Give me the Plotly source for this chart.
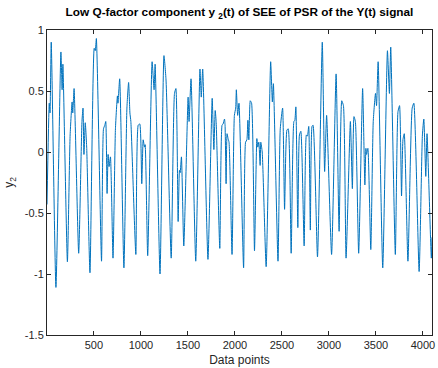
import plotly.graph_objects as go

# sample index (data points) and signal value at extrema
sample_idx = [1, 25, 33, 46, 96, 149, 162, 170, 218, 247, 268, 275, 289, 338, 373, 384, 394, 408, 423, 458,
              503, 514, 526, 581, 602, 616, 626, 640, 651, 661, 676, 703, 729, 750, 756, 774, 819, 851, 869, 883,
              893, 946, 971, 988, 1009, 1024, 1038, 1045, 1072, 1119, 1140, 1151, 1203, 1245, 1267, 1322, 1357, 1372, 1396, 1410,
              1417, 1431, 1456, 1502, 1512, 1533, 1583, 1628, 1642, 1657, 1713, 1758, 1776, 1790, 1800, 1839, 1863, 1874, 1889, 1895,
              1906, 1916, 1927, 1937, 1969, 1994, 2008, 2015, 2029, 2043, 2092, 2113, 2127, 2138, 2148, 2163, 2177, 2208, 2233, 2243,
              2254, 2268, 2275, 2290, 2332, 2380, 2398, 2409, 2458, 2482, 2507, 2528, 2553, 2567, 2598, 2627, 2637, 2648, 2669, 2686,
              2701, 2736, 2760, 2771, 2785, 2802, 2820, 2831, 2878, 2929, 2954, 2975, 3028, 3076, 3108, 3136, 3154, 3182, 3228, 3249,
              3266, 3281, 3316, 3358, 3382, 3393, 3400, 3414, 3445, 3471, 3495, 3506, 3523, 3572, 3622, 3643, 3657, 3706, 3734, 3751,
              3772, 3787, 3801, 3840, 3885, 3903, 3959, 3994, 4009, 4030, 4043, 4089, 4096]

y2_values = [-0.43, 0.40, 0.32, 0.90, -1.11, 0.82, 0.51, 0.72, -0.90, 0.14, 0.41, 0.32, 0.52, -0.83, 0.25, 0.36, -0.02, 0.24, 0.04, -0.99,
             0.85, 0.83, 0.93, -0.895, 0.19, 0.22, 0.25, -0.34, -0.02, -0.12, -0.04, -0.87, 0.19, 0.46, 0.40, 0.60, -0.95, 0.36, 0.57, 0.32,
             0.25, -0.84, 0.22, 0.23, -0.26, 0.10, 0.04, 0.06, -0.85, 0.74, 0.51, 0.72, -1.00, 0.79, 0.59, -0.87, 0.48, 0.52, -0.57, -0.15,
             -0.17, -0.04, -0.77, 0.45, 0.25, 0.60, -0.895, 0.68, 0.45, 0.68, -0.88, 0.44, 0.02, 0.34, 0.25, -0.79, 0.22, 0.23, 0.27, 0.22,
             -0.26, 0.15, 0.11, 0.08, -0.84, 0.30, 0.36, 0.51, 0.30, 0.40, -0.95, 0.08, 0.10, 0.26, 0.10, 0.42, 0.40, -0.81, 0.11, 0.04,
             0.08, -0.11, 0.08, 0.00, -0.94, 0.74, 0.41, 0.56, -0.895, 0.19, 0.36, -0.47, 0.18, 0.19, -0.83, 0.25, 0.26, 0.37, -0.62, 0.14,
             0.17, -0.77, 0.14, 0.13, 0.21, -0.64, 0.21, 0.22, -0.86, 0.90, -0.16, 0.30, -0.84, 0.64, -0.65, 0.42, 0.38, -0.87, 0.25, -0.30,
             0.29, 0.25, -0.83, 0.52, -0.27, 0.03, -0.02, 0.03, -0.80, 0.25, 0.48, 0.38, 0.74, -0.95, 0.83, 0.48, 0.86, -0.84, 0.33, 0.38,
             -0.36, 0.10, 0.15, -0.895, 0.36, 0.40, -0.98, 0.14, 0.27, -0.20, 0.15, -0.87, -0.70]

x_tick_vals = [500, 1000, 1500, 2000, 2500, 3000, 3500, 4000]
x_tick_text = ["500", "1000", "1500", "2000", "2500", "3000", "3500", "4000"]
y_tick_vals = [-1.5, -1, -0.5, 0, 0.5, 1]
y_tick_text = ["-1.5", "-1", "-0.5", "0", "0.5", "1"]

n = min(len(sample_idx), len(y2_values))

AX = "#262626"
FONT = "Liberation Sans, Arial, Helvetica, sans-serif"

fig = go.Figure(go.Scatter(
    x=sample_idx[:n], y=y2_values[:n], mode="lines",
    line=dict(color="#0072BD", width=1, shape="spline", smoothing=0.5),
    hoverinfo="skip", showlegend=False,
))

axis_common = dict(
    showline=True, linecolor=AX, linewidth=1, mirror="ticks",
    ticks="inside", ticklen=4, tickwidth=1, tickcolor=AX,
    showgrid=False, zeroline=False, ticklabeloverflow="allow",
    tickfont=dict(family=FONT, size=11, color=AX),
)

fig.update_layout(
    width=438, height=368,
    margin=dict(l=47, r=3, t=30, b=32),
    paper_bgcolor="white", plot_bgcolor="white",
    font=dict(family=FONT, color=AX),
    title=dict(
        text="<b>Low Q-factor component y <sub>2</sub>(t) of SEE of PSR of the Y(t) signal</b>",
        x=0.5, xref="paper", xanchor="center", y=1, yref="container", yanchor="top", pad=dict(t=8),
        font=dict(family=FONT, size=11.8, color="black"),
    ),
    xaxis=dict(
        range=[1, 4096], tickvals=x_tick_vals, ticktext=x_tick_text,
        title=dict(text="Data points", font=dict(family=FONT, size=12, color=AX), standoff=5),
        **axis_common,
    ),
    yaxis=dict(
        range=[-1.5, 1], tickvals=y_tick_vals, ticktext=y_tick_text,
        title=dict(text="y<sub>2</sub>", font=dict(family=FONT, size=12, color=AX), standoff=8),
        **axis_common,
    ),
)

fig.write_html("out.html")
